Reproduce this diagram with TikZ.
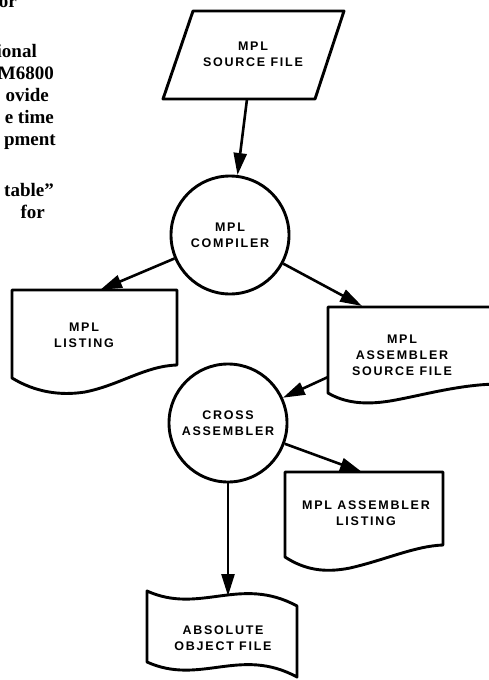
\documentclass[tikz,border=0pt]{standalone}
\usepackage{fontspec}
\setmainfont{Liberation Serif}
\newfontfamily\labfont[LetterSpace=14]{Liberation Sans}
\usetikzlibrary{arrows.meta}
\tikzset{
  shape line/.style={line width=2.9pt, line join=round},
  proc/.style={circle, draw, line width=2.9pt, minimum size=118pt, inner sep=0pt,
    align=center, font=\labfont\bfseries\fontsize{12.5}{16}\selectfont},
  lab/.style={align=center, inner sep=0pt, font=\labfont\bfseries\fontsize{12.5}{16}\selectfont},
  bodytext/.style={anchor=base east, inner sep=0pt, font=\bfseries\fontsize{19}{22}\selectfont},
  arr/.style={line width=2.6pt, -{Triangle[length=22pt,width=13pt]}}
}
\begin{document}
\begin{tikzpicture}[x=1pt,y=-1pt]
\useasboundingbox (0,0) rectangle (489,680);
\clip (0,0) rectangle (489,680);
\fill[white] (0,0) rectangle (489,680);

% fragments of the adjacent page text
\node[bodytext] (t1) at (17,7) {or};
\node[bodytext] (t2) at (37,57) {ional};
\node[bodytext] (t3) at (54,79) {M6800};
\node[bodytext] (t4) at (49,101) {ovide};
\node[bodytext] (t5) at (54,123) {e time};
\node[bodytext] (t6) at (56,145) {pment};
\node[bodytext] (t7) at (54,196) {table''};
\node[bodytext] (t8) at (45,218) {for};

% MPL source file (parallelogram)
\draw[shape line] (193,11) -- (344,11) -- (315,99) -- (163,99) -- cycle;
\node[lab] (src) at (253,54) {MPL\\SOURCE FILE};
\coordinate (srcout) at (247,99);

% MPL compiler
\node[proc] (comp) at (230,235) {MPL\\COMPILER};

% MPL listing (document)
\draw[shape line] (12,378) -- (12,290) -- (177,290) -- (177,365)
  .. controls (145,366) and (120,385) .. (85,392)
  .. controls (60,396) and (35,392) .. (12,378) -- cycle;
\node[lab] (lst) at (84,335) {MPL\\LISTING};
\coordinate (lstin) at (100,290);

% MPL assembler source file (document, runs off the page)
\draw[shape line] (328,393) -- (328,307) -- (500,307) -- (500,384)
  .. controls (460,384) and (420,396) .. (390,401)
  .. controls (365,405) and (345,403) .. (328,393) -- cycle;
\node[lab] (asrc) at (402,355) {MPL\\ASSEMBLER\\SOURCE FILE};
\coordinate (asrcin) at (362,306);
\coordinate (asrcout) at (328,377);

% cross assembler
\node[proc] (cross) at (228,423) {CROSS\\ASSEMBLER};

% MPL assembler listing (document)
\draw[shape line] (285,557) -- (285,472) -- (443,472) -- (443,545)
  .. controls (415,546) and (385,560) .. (350,568)
  .. controls (325,573) and (305,570) .. (285,557) -- cycle;
\node[lab] (alst) at (366,513) {MPL ASSEMBLER\\LISTING};
\coordinate (alstin) at (362,472);

% absolute object file (punched tape)
\draw[shape line] (147,591) .. controls (200,615) and (240,575) .. (297,606)
  -- (297,677) .. controls (240,646) and (200,686) .. (147,662) -- cycle;
\node[lab] (abs) at (223,638) {ABSOLUTE\\OBJECT FILE};
\coordinate (absin) at (228,596);

% connectors
\draw[arr] (srcout) -- (comp);
\draw[arr] (comp) -- (lstin);
\draw[arr] (comp) -- (asrcin);
\draw[arr] (asrcout) -- (cross);
\draw[arr] (cross) -- (alstin);
\draw[arr] (cross) -- (absin);
\end{tikzpicture}
\end{document}
